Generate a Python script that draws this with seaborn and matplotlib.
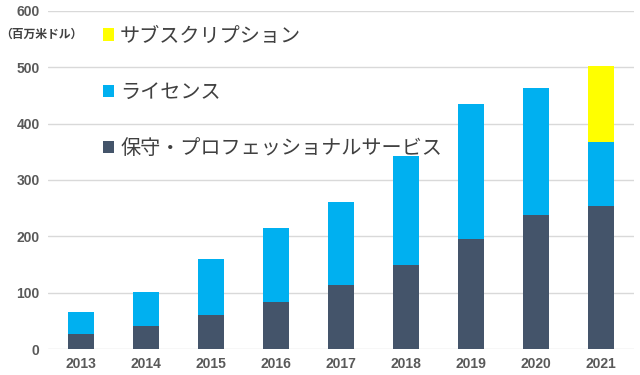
import pandas as pd
import matplotlib.pyplot as plt
import seaborn as sns
from matplotlib.patches import Patch

# データ（百万米ドル）
years = ['2013', '2014', '2015', '2016', '2017', '2018', '2019', '2020', '2021']
maintenance = [27, 41, 60, 84, 114, 150, 196, 238, 253]
license_ = [38, 61, 100, 131, 147, 193, 238, 225, 115]
subscription = [0, 0, 0, 0, 0, 0, 0, 0, 134]

labels = ['サブスクリプション', 'ライセンス', '保守・プロフェッショナルサービス']
colors = ['#FFFF00', '#00B0F0', '#44546A']

df = pd.DataFrame({'year': years, 'maint': maintenance,
                   'lic': license_, 'sub': subscription})
df['lic_bottom'] = df['maint']
df['sub_bottom'] = df['maint'] + df['lic']

sns.set_style('white')
plt.rcParams['font.family'] = ['Noto Sans CJK JP', 'DejaVu Sans']

fig, ax = plt.subplots(figsize=(6.4, 3.75), dpi=100)
plt.subplots_adjust(left=0.075, right=0.99, top=0.971, bottom=0.069)

bar_kw = dict(width=0.4, saturation=1, linewidth=0, ax=ax)
sns.barplot(data=df, x='year', y='maint', color=colors[2], **bar_kw)
sns.barplot(data=df, x='year', y='lic', bottom=df['lic_bottom'], color=colors[1], **bar_kw)
sns.barplot(data=df, x='year', y='sub', bottom=df['sub_bottom'], color=colors[0], **bar_kw)

ax.set_ylim(0, 600)
ax.set_xlim(-0.5, 8.5)
ax.set_yticks(range(0, 601, 100))
ax.set_xlabel('')
ax.set_ylabel('')
ax.grid(axis='y', color='#D9D9D9', linewidth=1)
ax.set_axisbelow(True)
for s in ax.spines.values():
    s.set_visible(False)
ax.tick_params(axis='both', length=0, labelsize=10, labelcolor='#595959', pad=6)
for lab in ax.get_xticklabels() + ax.get_yticklabels():
    lab.set_fontweight('bold')
    lab.set_fontfamily(['Liberation Sans'])

fig.text(0.0, 0.909, '（百万米ドル）', fontsize=8.5, fontweight='bold',
         color='#404040', va='center', ha='left')

handles = [Patch(facecolor=c, edgecolor='none') for c in colors]
leg = ax.legend(handles, labels, loc='upper left', bbox_to_anchor=(0.063, 1.01),
                frameon=False, fontsize=14.5, labelspacing=1.75,
                handlelength=0.55, handleheight=0.55, handletextpad=0.3)
for t in leg.get_texts():
    t.set_color('#404040')

plt.savefig('out.png', dpi=100)
